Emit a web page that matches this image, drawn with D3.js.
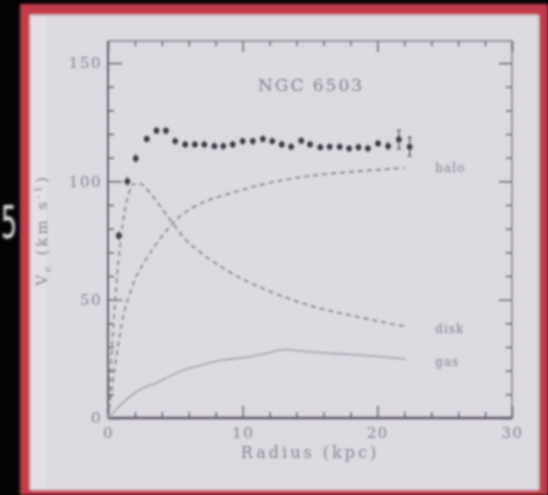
<!DOCTYPE html>
<html>
<head>
<meta charset="utf-8">
<script src="https://cdn.jsdelivr.net/npm/d3@7"></script>
<style>
  html, body { margin: 0; padding: 0; background: #000; }
  svg { display: block; }
</style>
</head>
<body>
<svg id="chart" width="548" height="495"></svg>
<script>
// ---- data ----
const title = "NGC 6503";
const xTicksMajor = [0, 10, 20, 30];
const yTicksMajor = [0, 50, 100, 150];

const obsR = [0.8, 1.44, 2.06, 2.88, 3.6, 4.3, 4.99, 5.73, 6.45, 7.15, 7.9, 8.56, 9.26, 10.0, 10.75,
              11.5, 12.2, 12.9, 13.6, 14.35, 15.0, 15.76, 16.46, 17.2, 17.9, 18.6, 19.3, 20.05, 20.8, 21.6, 22.4];
const obsV = [77, 100, 109.7, 117.9, 121.4, 121.4, 117, 115.6, 115.6, 115.6, 114.9, 114.9, 115.6, 117, 117,
              117.9, 117, 115.6, 114.6, 117.2, 115.6, 114.4, 114.6, 114.6, 113.9, 114.4, 113.9, 116, 114.9, 117.7, 114.6];
const obsErr = [2, 2, 2, 1.5, 1.5, 1.5, 1.5, 1.5, 1.5, 1.5, 1.5, 1.5, 1.5, 1.5, 1.5,
                1.5, 1.5, 1.5, 1.5, 1.5, 1.5, 1.5, 1.5, 1.5, 1.5, 1.5, 1.5, 1.5, 2, 4, 4];

const diskR = [0, 0.3, 0.6, 0.9, 1.2, 1.5, 1.9, 2.4, 3.05, 3.9, 4.8, 5.8, 6.8, 8, 9, 10.5, 12.7, 15, 17.9, 20, 22.1];
const diskV = [0, 30, 55, 73, 86, 94, 99, 99, 95.6, 89.3, 82.3, 75.2, 70.3, 65.4, 61.8, 57.3, 52, 47.5, 43.5, 41, 38.6];

const haloR = [0, 0.5, 1.06, 1.8, 2.8, 3.8, 4.8, 6, 7.5, 9, 11, 13, 15.5, 18, 20.4, 22];
const haloV = [0, 21, 41, 55.5, 66.8, 75.2, 82.3, 87.9, 92.1, 94.8, 98, 100.5, 102.6, 104, 105, 105.7];

const gasR = [0, 0.5, 1.07, 2.3, 3.55, 5.04, 6.5, 8.5, 10.1, 11.5, 13.2, 14, 15.3, 17.9, 20, 22.1];
const gasV = [0, 3, 6.2, 11.8, 14.7, 18.9, 21.7, 24.5, 25.5, 27, 29, 28.5, 27.8, 26.9, 26, 24.9];

const curveLabels = ["halo", "disk", "gas"];
const curveLabelV = [106, 38, 24];

// ---- layout ----
const W = 548, H = 495;
const plot = { left: 108, right: 512, top: 41, bottom: 418 };
const svg = d3.select("#chart");

const defs = svg.append("defs");
defs.append("filter").attr("id", "blur")
  .attr("x", "-5%").attr("y", "-5%").attr("width", "110%").attr("height", "110%")
  .append("feGaussianBlur").attr("stdDeviation", 1.1);
defs.append("filter").attr("id", "blur2")
  .append("feGaussianBlur").attr("stdDeviation", 1.4);

// slide background
svg.append("rect").attr("width", W).attr("height", H).attr("fill", "#050405");
const frame = svg.append("g").attr("filter", "url(#blur2)");
frame.append("rect").attr("x", 20).attr("y", 4).attr("width", W - 20).attr("height", H - 4).attr("fill", "#c23b4e");
frame.append("rect").attr("x", 30).attr("y", 15).attr("width", 509).attr("height", 475).attr("fill", "#dcd9e1");
frame.append("rect").attr("x", 30).attr("y", 15).attr("width", 16).attr("height", 475).attr("fill", "#e1dfe6");
frame.append("text").attr("x", 1).attr("y", 238).attr("fill", "#e8e8ee")
  .attr("font-family", "DejaVu Sans").attr("font-size", 44)
  .attr("textLength", 16).attr("lengthAdjust", "spacingAndGlyphs").text("5");

const g = svg.append("g").attr("filter", "url(#blur)");

const x = d3.scaleLinear().domain([0, 30]).range([plot.left, plot.right]);
const y = d3.scaleLinear().domain([0, 150]).range([plot.bottom, 63]);

const axisColor = "#5d5a63";
const textColor = "#8a8790";
const fontFam = "'DejaVu Serif', 'Liberation Serif', serif";

// frame box
g.append("rect").attr("x", plot.left).attr("y", plot.top)
  .attr("width", plot.right - plot.left).attr("height", plot.bottom - plot.top)
  .attr("fill", "none").attr("stroke", "#7a7780").attr("stroke-width", 1.3);
g.append("line").attr("x1", plot.left).attr("x2", plot.right).attr("y1", plot.bottom).attr("y2", plot.bottom)
  .attr("stroke", axisColor).attr("stroke-width", 2.4);
g.append("line").attr("x1", plot.left).attr("x2", plot.left).attr("y1", plot.top).attr("y2", plot.bottom)
  .attr("stroke", axisColor).attr("stroke-width", 1.8);

const xMinor = d3.range(0, 31, 2).filter(v => v % 10 !== 0);
const yMinor = d3.range(0, 160, 10).filter(v => v % 50 !== 0);

function styleAxis(sel) {
  sel.select(".domain").remove();
  sel.selectAll(".tick line").attr("stroke", axisColor).attr("stroke-width", 1.3);
}
// bottom
g.append("g").attr("transform", `translate(0,${plot.bottom})`)
  .call(d3.axisBottom(x).tickValues(xTicksMajor).tickSizeInner(-12).tickSizeOuter(0).tickFormat(d3.format("d")))
  .call(styleAxis)
  .call(s => s.selectAll("text").attr("fill", textColor).attr("font-family", fontFam).attr("font-size", 15).attr("letter-spacing", 1.5).attr("dy", "0").attr("y", 20));
g.append("g").attr("transform", `translate(0,${plot.bottom})`)
  .call(d3.axisBottom(x).tickValues(xMinor).tickSizeInner(-6).tickSizeOuter(0).tickFormat(""))
  .call(styleAxis);
// top
g.append("g").attr("transform", `translate(0,${plot.top})`)
  .call(d3.axisTop(x).tickValues(xTicksMajor).tickSizeInner(-11).tickSizeOuter(0).tickFormat(""))
  .call(styleAxis);
g.append("g").attr("transform", `translate(0,${plot.top})`)
  .call(d3.axisTop(x).tickValues(xMinor).tickSizeInner(-5).tickSizeOuter(0).tickFormat(""))
  .call(styleAxis);
// left
g.append("g").attr("transform", `translate(${plot.left},0)`)
  .call(d3.axisLeft(y).tickValues(yTicksMajor).tickSizeInner(-14).tickSizeOuter(0).tickFormat(d3.format("d")))
  .call(styleAxis)
  .call(s => s.selectAll("text").attr("fill", textColor).attr("font-family", fontFam).attr("font-size", 15).attr("letter-spacing", 1.5).attr("x", -6));
g.append("g").attr("transform", `translate(${plot.left},0)`)
  .call(d3.axisLeft(y).tickValues(yMinor).tickSizeInner(-6).tickSizeOuter(0).tickFormat(""))
  .call(styleAxis);
// right
g.append("g").attr("transform", `translate(${plot.right},0)`)
  .call(d3.axisRight(y).tickValues(yTicksMajor).tickSizeInner(-13).tickSizeOuter(0).tickFormat(""))
  .call(styleAxis);
g.append("g").attr("transform", `translate(${plot.right},0)`)
  .call(d3.axisRight(y).tickValues(yMinor).tickSizeInner(-6).tickSizeOuter(0).tickFormat(""))
  .call(styleAxis);

// axis titles
g.append("text").attr("x", (plot.left + plot.right) / 2).attr("y", 458).attr("text-anchor", "middle")
  .attr("fill", textColor).attr("font-family", fontFam).attr("font-size", 16).attr("letter-spacing", 3)
  .text("Radius (kpc)");
const yl = g.append("text").attr("transform", "translate(47,230) rotate(-90)").attr("text-anchor", "middle")
  .attr("fill", textColor).attr("font-family", fontFam).attr("font-size", 15).attr("letter-spacing", 3);
yl.append("tspan").text("V");
yl.append("tspan").attr("font-size", 10).attr("dy", 4).text("c");
yl.append("tspan").attr("dy", -4).text(" (km s");
yl.append("tspan").attr("font-size", 10).attr("dy", -6).text("-1");
yl.append("tspan").attr("dy", 6).text(")");

// title
g.append("text").attr("x", 311).attr("y", 91).attr("text-anchor", "middle")
  .attr("fill", "#85828b").attr("font-family", fontFam).attr("font-size", 17).attr("letter-spacing", 2)
  .text(title);

// model curves
const line = d3.line().x(d => x(d[0])).y(d => y(d[1])).curve(d3.curveMonotoneX);
const zip = (a, b) => a.map((v, i) => [v, b[i]]);
g.append("path").datum(zip(haloR, haloV)).attr("d", line)
  .attr("fill", "none").attr("stroke", "#86838c").attr("stroke-width", 1.6).attr("stroke-dasharray", "5,4");
g.append("path").datum(zip(diskR, diskV)).attr("d", line)
  .attr("fill", "none").attr("stroke", "#86838c").attr("stroke-width", 1.6).attr("stroke-dasharray", "5,4");
g.append("path").datum(zip(gasR, gasV)).attr("d", line)
  .attr("fill", "none").attr("stroke", "#a09da6").attr("stroke-width", 1.3);

// curve labels
g.selectAll(".clab").data(curveLabels).join("text")
  .attr("x", x(24.3)).attr("y", (d, i) => y(curveLabelV[i]) + 5)
  .attr("fill", textColor).attr("font-family", fontFam).attr("font-size", 12).attr("letter-spacing", 1)
  .text(d => d);

// observed points
const obs = obsR.map((r, i) => ({ r, v: obsV[i], e: obsErr[i] }));
g.selectAll(".err").data(obs).join("line")
  .attr("x1", d => x(d.r)).attr("x2", d => x(d.r))
  .attr("y1", d => y(d.v - d.e)).attr("y2", d => y(d.v + d.e))
  .attr("stroke", "#55525a").attr("stroke-width", 1.2);
g.selectAll(".errcap").data(obs.filter(d => d.e >= 3)).join("path")
  .attr("d", d => `M${x(d.r) - 2},${y(d.v + d.e)}h4M${x(d.r) - 2},${y(d.v - d.e)}h4`)
  .attr("stroke", "#55525a").attr("stroke-width", 1.2);
g.selectAll(".pt").data(obs).join("circle")
  .attr("cx", d => x(d.r)).attr("cy", d => y(d.v)).attr("r", 2.9)
  .attr("fill", "#3f3c45");
</script>
</body>
</html>
